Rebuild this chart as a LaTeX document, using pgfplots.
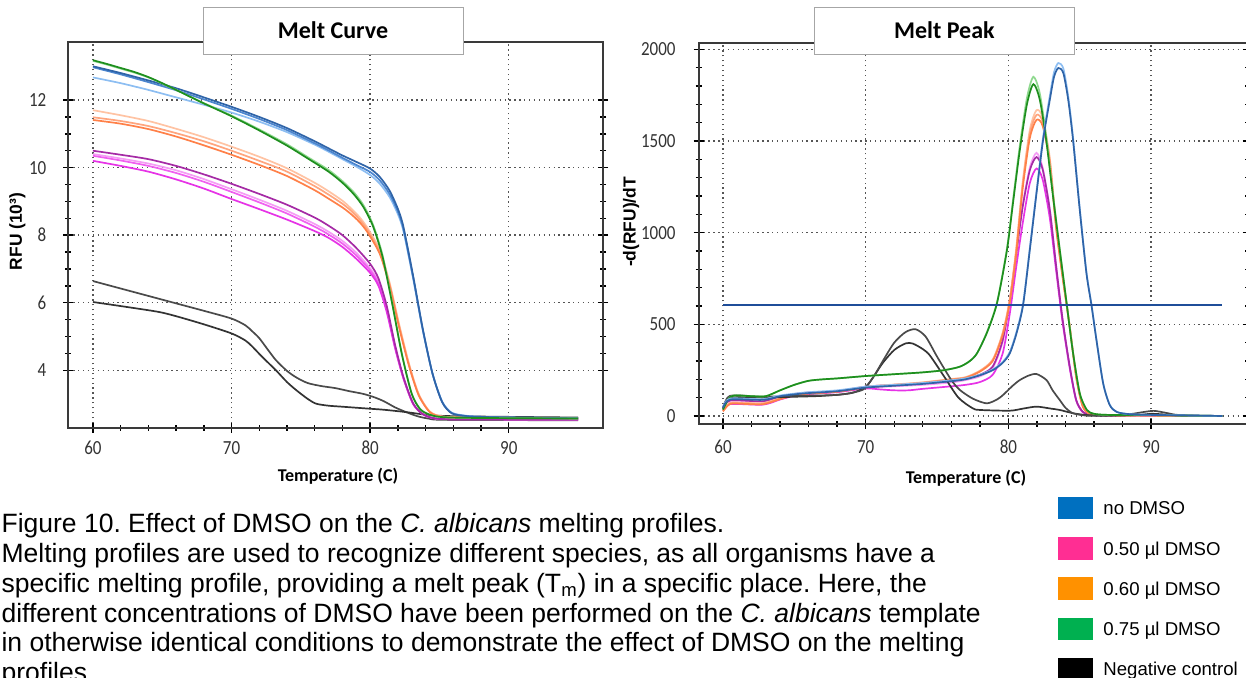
\documentclass[border=0pt]{standalone}
\usepackage{fontspec}
\setmainfont{Liberation Sans}
\newfontfamily\carlito{Carlito}
\newfontfamily\tickfont[FakeStretch=0.85]{Carlito}
\usepackage{pgfplots}
\pgfplotsset{compat=1.18}

\definecolor{axisgray}{HTML}{3A3A3A}
\definecolor{gridgray}{HTML}{555555}
\definecolor{ticktext}{HTML}{333333}
\definecolor{bluedark}{HTML}{2F64A8}
\definecolor{bluemid}{HTML}{4C86CF}
\definecolor{bluelight}{HTML}{8DBEF2}
\definecolor{greendark}{HTML}{1E8F1E}
\definecolor{greenlight}{HTML}{8FD98F}
\definecolor{orlight}{HTML}{FFC3A3}
\definecolor{ormid}{HTML}{FFA57E}
\definecolor{ordark}{HTML}{FF8048}
\definecolor{purp}{HTML}{A52AA5}
\definecolor{pinklight}{HTML}{F59CF5}
\definecolor{pinkmid}{HTML}{F060F0}
\definecolor{magen}{HTML}{E633E6}
\definecolor{grayA}{HTML}{4A4A4A}
\definecolor{grayB}{HTML}{333333}
\definecolor{thresh}{HTML}{1F4E99}
\definecolor{legblue}{HTML}{0070C0}
\definecolor{legpink}{HTML}{FF2E93}
\definecolor{legorange}{HTML}{FF9100}
\definecolor{leggreen}{HTML}{00B050}

\pgfplotsset{
  meltaxis/.style={
    scale only axis,
    axis line style={line width=0.9pt, color=axisgray},
    tick align=center,
    major tick length=5pt, minor tick length=3pt,
    tick style={line width=0.7pt, color=black},
    xtick pos=left,
    ytick pos=both,
    grid=major,
    major grid style={line width=0.65pt, dash pattern=on 0.65pt off 1.8pt, color=gridgray},
    ticklabel style={font=\tickfont\fontsize{10}{12}\selectfont, text=ticktext},
    /pgf/number format/assume math mode=true,
    /pgf/number format/1000 sep={},
    scaled ticks=false,
    xtick={60,70,80,90},
    minor x tick num=4,
    every axis plot/.append style={line width=0.85pt, smooth, tension=0.45, mark=none},
  },
}

\begin{document}
\frenchspacing
\begin{tikzpicture}
\path[use as bounding box] (0,0) rectangle (623pt,339pt);

% ---------------- Melt Curve ----------------
\begin{axis}[meltaxis,
  at={(34.2pt,125pt)}, anchor=south west,
  width=267.3pt, height=192.85pt,
  xmin=58.23, xmax=96.8, ymin=2.29, ymax=13.71,
  ytick={4,6,8,10,12}, minor y tick num=3,
  xticklabel style={anchor=center, yshift=-7.6pt},
  yticklabel style={anchor=east, xshift=-5pt},
]
\addplot[grayA] coordinates {(60,6.64)(62,6.42)(64,6.20)(66,5.98)(68,5.76)(70,5.53)(71,5.33)(71.5,5.15)(72,4.95)(72.6,4.62)(73.2,4.30)(74,3.98)(74.7,3.78)(75.5,3.62)(76.5,3.53)(77.5,3.47)(78.5,3.38)(79.5,3.30)(80.3,3.20)(81,3.08)(81.8,2.90)(82.6,2.76)(83.4,2.64)(84.2,2.57)(85.5,2.53)(95,2.52)};
\addplot[grayB] coordinates {(60,6.02)(62,5.90)(64.7,5.73)(66,5.60)(68,5.36)(70,5.09)(71,4.88)(71.5,4.70)(72.2,4.40)(73.2,4.00)(74,3.65)(74.7,3.40)(75.5,3.15)(76.1,3.01)(77,2.95)(78,2.92)(80,2.86)(81,2.83)(82.6,2.76)(84.3,2.67)(86,2.64)(90,2.62)(95,2.60)};
\addplot[pinklight] coordinates {(60,10.40)(62,10.27)(64,10.12)(66,9.92)(68,9.66)(70,9.36)(72,9.05)(74,8.72)(76,8.33)(77,8.10)(78,7.83)(79,7.48)(80,7.02)(80.6,6.62)(81.2,5.82)(81.8,4.70)(82.4,3.78)(83.1,3.01)(83.8,2.70)(84.6,2.58)(86,2.55)(95,2.54)};
\addplot[pinkmid] coordinates {(60,10.35)(62,10.21)(64,10.05)(66,9.84)(68,9.58)(70,9.28)(72,8.97)(74,8.64)(76,8.25)(77,8.02)(78,7.75)(79,7.40)(80,6.96)(80.6,6.57)(81.2,5.78)(81.8,4.68)(82.4,3.77)(83.1,3.01)(83.8,2.70)(84.6,2.58)(86,2.55)(95,2.54)};
\addplot[magen] coordinates {(60,10.20)(62,10.05)(64,9.88)(66,9.65)(68,9.38)(70,9.07)(72,8.77)(74,8.46)(76,8.12)(77,7.92)(78,7.65)(79,7.30)(80,6.88)(80.6,6.50)(81.2,5.72)(81.8,4.65)(82.4,3.76)(83.1,3.00)(83.8,2.70)(84.6,2.58)(86,2.55)(95,2.54)};
\addplot[purp] coordinates {(60,10.50)(62,10.38)(64,10.25)(66,10.05)(68,9.80)(70,9.52)(72,9.22)(74,8.90)(76,8.52)(77,8.28)(78,8.00)(79,7.62)(80,7.15)(80.6,6.72)(81.2,5.90)(81.8,4.75)(82.4,3.80)(83.1,3.02)(83.8,2.70)(84.6,2.58)(86,2.55)(95,2.54)};
\addplot[orlight] coordinates {(60,11.70)(62,11.55)(64,11.38)(66,11.15)(68,10.90)(70,10.62)(72,10.32)(74,9.98)(76,9.55)(77,9.30)(78,9.02)(78.6,8.80)(79.2,8.55)(79.8,8.22)(80.7,7.56)(81.4,6.60)(82.1,5.35)(82.8,4.20)(83.5,3.30)(84.3,2.78)(85.2,2.63)(87,2.60)(95,2.58)};
\addplot[ormid] coordinates {(60,11.49)(62,11.38)(64,11.23)(66,11.02)(68,10.78)(70,10.50)(72,10.20)(74,9.88)(76,9.45)(77,9.20)(78,8.93)(78.6,8.73)(79.2,8.48)(79.8,8.16)(80.7,7.50)(81.4,6.55)(82.1,5.30)(82.8,4.17)(83.5,3.28)(84.3,2.77)(85.2,2.63)(87,2.60)(95,2.58)};
\addplot[ordark] coordinates {(60,11.41)(62,11.30)(64,11.14)(66,10.92)(68,10.66)(70,10.38)(72,10.08)(74,9.75)(76,9.33)(77,9.08)(78,8.82)(78.6,8.63)(79.2,8.40)(79.8,8.09)(80.7,7.44)(81.4,6.50)(82.1,5.25)(82.8,4.13)(83.5,3.26)(84.3,2.76)(85.2,2.62)(87,2.60)(95,2.58)};
\addplot[bluelight] coordinates {(60,12.67)(62,12.50)(64,12.30)(66,12.08)(68,11.86)(70,11.63)(72,11.36)(74,11.05)(76,10.68)(77,10.47)(78,10.25)(79,10.03)(80,9.78)(80.7,9.52)(81.4,9.13)(82,8.62)(82.4,8.12)(83.1,6.72)(83.8,5.18)(84.5,3.90)(85.2,3.07)(85.9,2.74)(87,2.65)(88,2.62)(90,2.60)(95,2.58)};
\addplot[bluemid] coordinates {(60,12.97)(62,12.76)(64,12.53)(66,12.29)(68,12.02)(70,11.74)(72,11.44)(74,11.11)(76,10.72)(77,10.51)(78,10.29)(79,10.08)(80,9.87)(80.7,9.62)(81.4,9.22)(82,8.70)(82.4,8.18)(83.1,6.75)(83.8,5.20)(84.5,3.90)(85.2,3.06)(85.9,2.73)(87,2.64)(88,2.62)(90,2.60)(95,2.58)};
\addplot[bluedark] coordinates {(60,13.00)(62,12.80)(64,12.58)(66,12.35)(68,12.08)(70,11.80)(72,11.50)(74,11.17)(76,10.78)(77,10.57)(78,10.36)(79,10.17)(80,9.97)(80.7,9.72)(81.4,9.32)(82,8.78)(82.4,8.25)(83.1,6.80)(83.8,5.22)(84.5,3.90)(85.2,3.05)(85.9,2.72)(87,2.64)(88,2.62)(90,2.60)(95,2.58)};
\addplot[greenlight] coordinates {(60,13.16)(61,13.05)(62,12.93)(63,12.81)(64,12.67)(65,12.49)(66,12.30)(67,12.10)(68,11.91)(70,11.54)(72,11.13)(74,10.69)(75.5,10.31)(77,9.93)(78,9.60)(78.8,9.28)(79.5,8.90)(80.2,8.32)(80.9,7.40)(81.6,5.98)(82.3,4.47)(83,3.31)(83.6,2.86)(84.2,2.70)(85,2.62)(87,2.59)(95,2.57)};
\addplot[greendark] coordinates {(60,13.18)(61,13.07)(62,12.95)(63,12.83)(64,12.68)(65,12.50)(66,12.30)(67,12.10)(68,11.90)(70,11.52)(72,11.10)(74,10.65)(75.5,10.27)(77,9.88)(78,9.55)(78.8,9.22)(79.5,8.84)(80.2,8.27)(80.9,7.35)(81.6,5.95)(82.3,4.45)(83,3.30)(83.6,2.85)(84.2,2.70)(85,2.62)(87,2.59)(95,2.57)};
\end{axis}

% ---------------- Melt Peak ----------------
\begin{axis}[meltaxis,
  at={(349.3pt,127pt)}, anchor=south west,
  width=274.75pt, height=190.35pt,
  xmin=58.29, xmax=96.8, ymin=-43.6, ymax=2032.7,
  ytick={0,500,1000,1500,2000}, minor y tick num=4,
  xticklabel style={anchor=center, yshift=-8.9pt},
  yticklabel style={anchor=east, xshift=-5.5pt},
]
\addplot[pinklight] coordinates {(60,38)(60.5,82)(62.8,78)(64,100)(65,118)(66,126)(68,133)(70,155)(72,162)(74,170)(76,183)(77,196)(78,216)(78.9,262)(79.6,405)(80.1,625)(80.55,885)(81.0,1150)(81.5,1355)(81.97,1435)(82.4,1355)(82.9,1130)(83.35,818)(83.8,525)(84.3,268)(84.75,86)(85.2,24)(85.7,8)(87,3)(95,0)};
\addplot[magen] coordinates {(60,30)(60.5,65)(62.8,62)(64,90)(65,110)(66,120)(68,130)(70,150)(71,145)(72,140)(73,140)(74,148)(76,162)(77,170)(78,185)(78.9,225)(79.6,342)(80.1,560)(80.55,814)(81.0,1050)(81.5,1270)(81.97,1350)(82.4,1290)(82.9,1080)(83.35,790)(83.8,510)(84.3,260)(84.75,85)(85.2,22)(85.7,8)(87,3)(95,0)};
\addplot[purp] coordinates {(60,40)(60.5,85)(62.8,80)(64,105)(65,120)(66,128)(68,135)(70,160)(72,170)(74,178)(76,190)(77,205)(78,225)(78.9,270)(79.6,414)(80.1,633)(80.55,885)(81.0,1140)(81.5,1340)(81.97,1412)(82.4,1345)(82.9,1125)(83.35,815)(83.8,525)(84.3,270)(84.75,88)(85.2,24)(85.7,8)(87,3)(95,0)};
\addplot[orlight] coordinates {(60,30)(60.5,72)(61.5,72)(62.8,70)(64,97)(65,117)(66,127)(68,137)(70,160)(72,172)(74,184)(76,202)(77,212)(78,247)(78.9,308)(79.6,455)(80.1,640)(80.55,915)(81.0,1275)(81.5,1560)(81.97,1668)(82.4,1628)(82.9,1408)(83.35,1040)(83.8,765)(84.3,490)(84.75,216)(85.2,56)(85.7,12)(86.5,5)(88,3)(95,0)};
\addplot[ormid] coordinates {(60,28)(60.5,70)(61.5,70)(62.8,68)(64,95)(65,115)(66,125)(68,135)(70,158)(72,170)(74,182)(76,200)(77,210)(78,245)(78.9,305)(79.6,450)(80.1,633)(80.55,905)(81.0,1260)(81.5,1540)(81.97,1642)(82.4,1605)(82.9,1395)(83.35,1030)(83.8,760)(84.3,487)(84.75,214)(85.2,55)(85.7,12)(86.5,5)(88,3)(95,0)};
\addplot[ordark] coordinates {(60,25)(60.5,66)(61.5,66)(62.8,64)(64,92)(65,112)(66,122)(68,132)(70,155)(72,167)(74,180)(76,198)(77,208)(78,242)(78.9,300)(79.6,442)(80.1,622)(80.55,890)(81.0,1240)(81.5,1515)(81.97,1615)(82.4,1582)(82.9,1380)(83.35,1022)(83.8,755)(84.3,484)(84.75,212)(85.2,54)(85.7,12)(86.5,5)(88,3)(95,0)};
\addplot[grayB] coordinates {(60,40)(60.5,100)(62.8,100)(65,105)(67,110)(69,125)(70,160)(70.6,220)(71.2,290)(72,360)(72.8,396)(73.3,395)(74,365)(74.5,330)(75.5,215)(76.5,100)(77.5,42)(78,33)(80.1,29)(81,40)(81.97,51)(83,40)(83.6,33)(84.53,15)(85.5,5)(87,2)(89,5)(90,12)(91,8)(92,2)(95,0)};
\addplot[grayA] coordinates {(60,40)(60.5,110)(62.8,105)(65,110)(68,115)(69.5,135)(70,155)(70.6,220)(71.2,300)(72,400)(72.8,458)(73.5,473)(74.2,433)(75,324)(76,196)(76.6,142)(77.5,95)(78.47,69)(79.2,90)(79.63,115)(80.3,165)(80.8,196)(81.4,220)(81.97,229)(82.67,196)(83.1,140)(83.6,87)(84.0,45)(84.53,15)(85.5,2)(87,2)(88.5,10)(89.5,22)(90.2,28)(91,18)(92,5)(95,0)};
\addplot[greenlight] coordinates {(60,38)(60.4,95)(60.8,112)(62,108)(63,108)(64,140)(65,170)(66,192)(67,200)(68,205)(70,218)(72,228)(74,238)(75.5,250)(76.6,269)(77.3,300)(77.8,342)(78.5,458)(79.2,620)(79.9,915)(80.35,1195)(80.8,1475)(81.3,1735)(81.75,1850)(82.2,1760)(82.65,1525)(83.1,1225)(83.6,910)(84.05,636)(84.5,362)(85,125)(85.5,33)(86,12)(87,6)(90,5)(95,0)};
\addplot[greendark] coordinates {(60,35)(60.4,95)(60.8,112)(62,108)(63,108)(64,140)(65,170)(66,192)(67,200)(68,205)(70,218)(72,228)(74,238)(75.5,250)(76.6,269)(77.3,300)(77.8,342)(78.5,455)(79.2,615)(79.9,905)(80.35,1178)(80.8,1450)(81.3,1700)(81.75,1810)(82.2,1725)(82.65,1505)(83.1,1215)(83.6,905)(84.05,633)(84.5,360)(85,124)(85.5,33)(86,12)(87,6)(90,5)(95,0)};
\addplot[bluelight] coordinates {(60,50)(60.5,95)(62.8,92)(64,112)(65,122)(66,130)(68,140)(70,160)(72,170)(74,180)(76,195)(77,205)(78,225)(78.93,255)(79.6,295)(80.1,350)(80.57,460)(81.03,615)(81.5,915)(81.97,1225)(82.43,1520)(82.9,1745)(83.2,1875)(83.5,1925)(83.85,1895)(84.2,1740)(84.53,1520)(85.0,1135)(85.47,785)(85.82,610)(86.17,418)(86.64,180)(87.1,62)(87.6,22)(88.5,10)(90,6)(92,4)(95,0)};
\addplot[bluedark] coordinates {(60,45)(60.5,90)(62.8,88)(64,108)(65,118)(66,125)(68,135)(70,155)(72,165)(74,175)(76,190)(77,200)(78,222)(78.93,251)(79.6,290)(80.1,342)(80.57,451)(81.03,605)(81.5,905)(81.97,1215)(82.43,1505)(82.9,1723)(83.2,1850)(83.5,1898)(83.85,1870)(84.2,1720)(84.53,1505)(85.0,1124)(85.47,778)(85.82,605)(86.17,414)(86.64,178)(87.1,60)(87.6,22)(88.5,10)(90,6)(92,4)(95,0)};
\addplot[thresh, line width=1.4pt] coordinates {(60,605)(95,605)};
\end{axis}

% ---------------- titles and labels ----------------
\draw[fill=white, draw=gray!70, line width=0.5pt] (101.5pt,311.5pt) rectangle (231.5pt,335.35pt);
\node[font=\carlito\bfseries\fontsize{12}{14}\selectfont] at (166.5pt,323.8pt) {Melt Curve};
\draw[fill=white, draw=gray!70, line width=0.5pt] (407.2pt,311.5pt) rectangle (537.15pt,335.35pt);
\node[font=\carlito\bfseries\fontsize{12}{14}\selectfont] at (472.2pt,323.8pt) {Melt Peak};

\node[font=\carlito\bfseries\fontsize{9}{11}\selectfont] at (169pt,100.65pt) {Temperature (C)};
\node[font=\carlito\bfseries\fontsize{9}{11}\selectfont] at (483pt,100pt) {Temperature (C)};
\node[font=\bfseries\fontsize{8.7}{10}\selectfont, rotate=90] at (8.75pt,223.25pt) {RFU (10³)};
\node[font=\bfseries\fontsize{8.7}{10}\selectfont, rotate=90] at (315.5pt,228pt) {-d(RFU)/dT};

% ---------------- caption ----------------
\begin{scope}[every node/.style={anchor=base west, inner sep=0pt, font=\fontsize{13.25}{14.85}\selectfont}]
\node at (0.6pt,72.5pt) {Figure 10. Effect of DMSO on the \textit{C. albicans} melting profiles.};
\node at (0.6pt,57.65pt) {Melting profiles are used to recognize different species, as all organisms have a};
\node at (0.6pt,42.8pt) {specific melting profile, providing a melt peak (T\textsubscript{m}) in a specific place. Here, the};
\node at (0.6pt,27.95pt) {different concentrations of DMSO have been performed on the \textit{C. albicans} template};
\node at (0.6pt,13.1pt) {in otherwise identical conditions to demonstrate the effect of DMSO on the melting};
\node at (0.6pt,-1.75pt) {profiles.};
\end{scope}

% ---------------- legend ----------------
\fill[legblue] (529pt,79.5pt) rectangle (546.5pt,90.5pt);
\fill[legpink] (529pt,59pt) rectangle (546.5pt,70.5pt);
\fill[legorange] (529pt,39pt) rectangle (546.5pt,50.5pt);
\fill[leggreen] (529pt,19pt) rectangle (546.5pt,30pt);
\fill[black] (529pt,-1pt) rectangle (546.5pt,10pt);
\begin{scope}[every node/.style={anchor=base west, inner sep=0pt, font=\fontsize{9.3}{11}\selectfont}]
\node at (551.5pt,81.6pt) {no DMSO};
\node at (551.5pt,61.4pt) {0.50 µl DMSO};
\node at (551.5pt,41.4pt) {0.60 µl DMSO};
\node at (551.5pt,21.1pt) {0.75 µl DMSO};
\node at (551.5pt,1.1pt) {Negative control};
\end{scope}
\end{tikzpicture}
\end{document}
